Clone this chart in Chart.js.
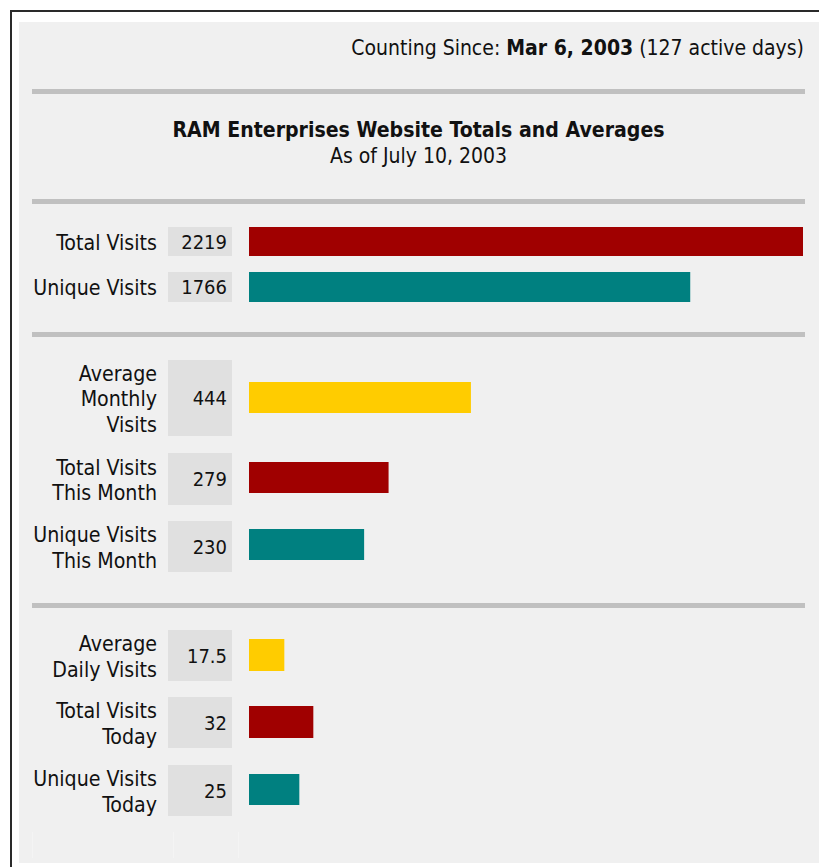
<!DOCTYPE html>
<html>
<head>
<meta charset="utf-8">
<script src="https://cdn.jsdelivr.net/npm/chart.js@4.4.1/dist/chart.umd.min.js"></script>
<style>
  html, body { margin: 0; padding: 0; background: #ffffff; }
  body { width: 819px; height: 867px; position: relative; overflow: hidden;
         font-family: "DejaVu Sans Condensed", "DejaVu Sans", sans-serif; color: #111; }
  .abs { position: absolute; }
  #borderTop { left: 10px; top: 10px; width: 809px; height: 2px; background: #2a2a2a; }
  #borderLeft { left: 10px; top: 10px; width: 2px; height: 857px; background: #2a2a2a; }
  #panel { left: 19px; top: 22px; width: 800px; height: 841px; background: #f0f0f0; }
  .sep { left: 32px; width: 773px; height: 5px; background: #c0c0c0; }
  #since { right: 15px; top: 36px; height: 24px; line-height: 24px; font-size: 21px; white-space: nowrap; }
  #title { left: 32px; width: 773px; top: 118px; height: 24px; line-height: 24px; text-align: center; font-size: 21.1px; font-weight: bold; }
  #subtitle { left: 32px; width: 773px; top: 144px; height: 24px; line-height: 24px; text-align: center; font-size: 21px; }
  .lab { left: 32px; width: 125px; display: flex; flex-direction: column; justify-content: center; align-items: flex-end; text-align: right; font-size: 21.2px; line-height: 25.5px; padding-top: 2px; box-sizing: border-box; }
  .val { left: 168px; width: 59px; padding-right: 5px; background: #e0e0e0; display: flex; align-items: center; justify-content: flex-end; font-size: 20px; }
  .faint { width: 1px; background: #f4f4f4; }
  canvas { position: absolute; left: 249px; }
</style>
</head>
<body>
<script>
// ---- data ----
const categories = [
  ["Total Visits"],
  ["Unique Visits"],
  ["Average", "Monthly", "Visits"],
  ["Total Visits", "This Month"],
  ["Unique Visits", "This Month"],
  ["Average", "Daily Visits"],
  ["Total Visits", "Today"],
  ["Unique Visits", "Today"]
];
const values = [2219, 1766, 444, 279, 230, 17.5, 32, 25];
const valueLabels = ["2219", "1766", "444", "279", "230", "17.5", "32", "25"];
const groupOfRow = [0, 0, 1, 1, 1, 2, 2, 2];
const groupAxisMax = [2219, 1110, 277];

const sinceLabel = "Counting Since:";
const sinceDate = "Mar 6, 2003";
const sinceDays = "(127 active days)";
const titleText = "RAM Enterprises Website Totals and Averages";
const subtitleText = "As of July 10, 2003";

// ---- styling / layout ----
const rowColors = ["#a00000", "#008080", "#ffcc00", "#a00000", "#008080", "#ffcc00", "#a00000", "#008080"];
const boxTop = [227, 272, 360, 453, 521, 630, 697, 765];
const boxH   = [29, 30, 76, 52, 51, 51, 51, 51];
const barTop = [227, 272, 382, 462, 529, 639, 706, 774];
const barH   = [29, 30, 31, 31, 31, 32, 32, 31];
const sepTops = [89, 199, 332, 603];
const barAreaWidth = 554;

function el(tag, cls, id, css) {
  const e = document.createElement(tag);
  if (cls) e.className = cls;
  if (id) e.id = id;
  if (css) Object.assign(e.style, css);
  document.body.appendChild(e);
  return e;
}

el("div", "abs", "borderTop");
el("div", "abs", "borderLeft");
el("div", "abs", "panel");
sepTops.forEach(t => el("div", "abs sep", null, { top: t + "px" }));

const since = el("div", "abs", "since");
since.innerHTML = sinceLabel + " <b>" + sinceDate + "</b> " + sinceDays;
el("div", "abs", "title").textContent = titleText;
el("div", "abs", "subtitle").textContent = subtitleText;

// trailing empty row faint cell edges
[32, 173, 238].forEach(x => el("div", "abs faint", null, { left: x + "px", top: "832px", height: "26px" }));

categories.forEach((lines, i) => {
  const lab = el("div", "abs lab", null, { top: boxTop[i] + "px", height: boxH[i] + "px" });
  lines.forEach(l => { const s = document.createElement("div"); s.textContent = l; s.style.whiteSpace = "nowrap"; lab.appendChild(s); });
  const v = el("div", "abs val", null, { top: boxTop[i] + "px", height: boxH[i] + "px" });
  v.textContent = valueLabels[i];

  const c = document.createElement("canvas");
  c.width = barAreaWidth; c.height = barH[i];
  c.style.top = barTop[i] + "px";
  c.style.width = barAreaWidth + "px"; c.style.height = barH[i] + "px";
  document.body.appendChild(c);

  new Chart(c, {
    type: "bar",
    data: {
      labels: [lines.join(" ")],
      datasets: [{
        data: [values[i]],
        backgroundColor: rowColors[i],
        borderWidth: 0,
        barPercentage: 1,
        categoryPercentage: 1
      }]
    },
    options: {
      indexAxis: "y",
      responsive: false,
      maintainAspectRatio: false,
      animation: false,
      devicePixelRatio: 1,
      layout: { padding: 0 },
      plugins: { legend: { display: false }, tooltip: { enabled: false } },
      scales: {
        x: { display: false, min: 0, max: groupAxisMax[groupOfRow[i]] },
        y: { display: false }
      }
    }
  });
});
</script>
</body>
</html>
